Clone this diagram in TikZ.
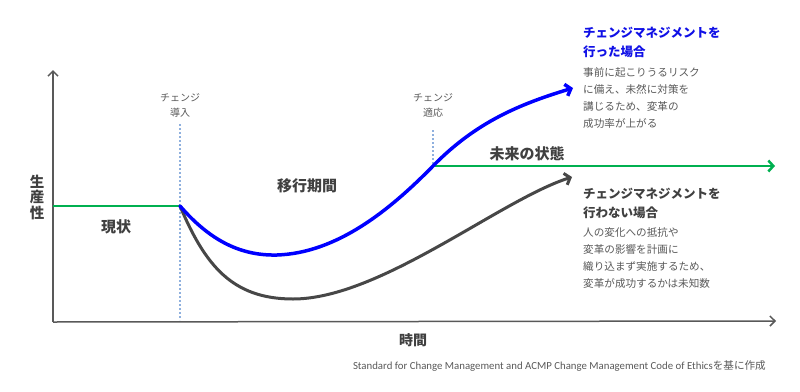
\documentclass[tikz,border=0pt]{standalone}
\usepackage{fontspec}
\setmainfont{Noto Sans CJK JP}
\newfontfamily\capfont{Carlito}
\usetikzlibrary{arrows.meta}
\definecolor{axisgray}{HTML}{595959}
\definecolor{darkline}{HTML}{474747}
\definecolor{titlegray}{HTML}{404040}
\definecolor{bodygray}{HTML}{595959}
\definecolor{greenline}{HTML}{00B050}
\definecolor{blueline}{HTML}{0000FF}
\definecolor{bluetext}{HTML}{1010E6}
\definecolor{dotblue}{HTML}{8FB0DE}
\tikzset{
  axisline/.style={draw=axisgray, line width=1.5pt, -{Straight Barb[length=5pt,width=10pt,line width=1.5pt]}},
  greenarrow/.style={draw=greenline, line width=2.5pt},
  bluecurve/.style={draw=blueline, line width=3.5pt, line cap=round},
  graycurve/.style={draw=darkline, line width=3pt, line cap=round},
  dotline/.style={draw=dotblue, line width=2pt, dash pattern=on 2pt off 2pt},
  biglabel/.style={font=\fontsize{15}{18}\selectfont\bfseries, text=titlegray, inner sep=0pt},
  smalllabel/.style={font=\fontsize{10}{15}\selectfont, text=bodygray, align=center, inner sep=0pt},
  titletext/.style={font=\fontsize{12.5}{19}\selectfont\bfseries, align=left, inner sep=0pt, anchor=west},
  bodytext/.style={font=\fontsize{10.6}{16.7}\selectfont, text=bodygray, align=left, inner sep=0pt, anchor=west},
}
\begin{document}
\begin{tikzpicture}[x=1pt,y=-1pt]
\useasboundingbox (0,0) rectangle (800,391);
% coordinates
\coordinate (O) at (53,322);
\coordinate (ytop) at (53,70);
\coordinate (xend) at (776,321);
\coordinate (cur) at (53,206);
\coordinate (s) at (180,206);
\coordinate (dtop1) at (180,124);
\coordinate (dbot1) at (180,320);
\coordinate (f) at (433,166);
\coordinate (dtop2) at (433,130);
\coordinate (fend) at (775,166);
\coordinate (bmin) at (277,255);
\coordinate (bend) at (573,88);
\coordinate (gmin) at (293,299);
\coordinate (gend) at (572,177);
% dotted markers
\draw[dotline] (dtop1) -- (dbot1);
\draw[dotline] (dtop2) -- (f);
% axes
\draw[axisline] (O) -- (ytop);
\draw[axisline] (O) -- (xend);
% green lines
\draw[greenarrow] (cur) -- (s);
\draw[greenarrow, -{Straight Barb[length=5pt,width=11pt,line width=2.5pt]}] (f) -- (fend);
% curves
\draw[graycurve, -{Straight Barb[length=5pt,width=12pt,line width=3pt]}] (s) .. controls (205,265) and (232,299) .. (gmin) .. controls (380,299) and (500,200) .. (gend);
\draw[bluecurve, -{Straight Barb[length=5pt,width=12pt,line width=3.5pt]}] (s) .. controls (207,237) and (237,256) .. (bmin) .. controls (337,253) and (390,210) .. (f) .. controls (476,122) and (520,104) .. (bend);
% labels
\node[smalllabel] (intro) at (180,105) {チェンジ\\導入};
\node[smalllabel] (adapt) at (433,105) {チェンジ\\適応};
\node[biglabel, align=center, font=\fontsize{14.5}{15.5}\selectfont\bfseries] (prod) at (37,197) {生\\産\\性};
\node[biglabel] (now) at (116,227) {現状};
\node[biglabel] (trans) at (307,186) {移行期間};
\node[biglabel] (future) at (527,154) {未来の状態};
\node[biglabel, font=\fontsize{14}{16}\selectfont\bfseries] (time) at (413,340) {時間};
\node[titletext, text=bluetext] (t1) at (583,42.5) {チェンジマネジメントを\\行った場合};
\node[bodytext] (b1) at (583,98) {事前に起こりうるリスク\\に備え、未然に対策を\\講じるため、変革の\\成功率が上がる};
\node[titletext, text=titlegray] (t2) at (583,203.5) {チェンジマネジメントを\\行わない場合};
\node[bodytext] (b2) at (583,258) {人の変化への抵抗や\\変革の影響を計画に\\織り込まず実施するため、\\変革が成功するかは未知数};
\node[inner sep=0pt, anchor=east, text=bodygray, font=\fontsize{10.6}{14}\selectfont] (cap) at (766,366) {{\capfont\fontsize{10.8}{14}\selectfont Standard for Change Management and ACMP Change Management Code of Ethics}を基に作成};
\end{tikzpicture}
\end{document}
